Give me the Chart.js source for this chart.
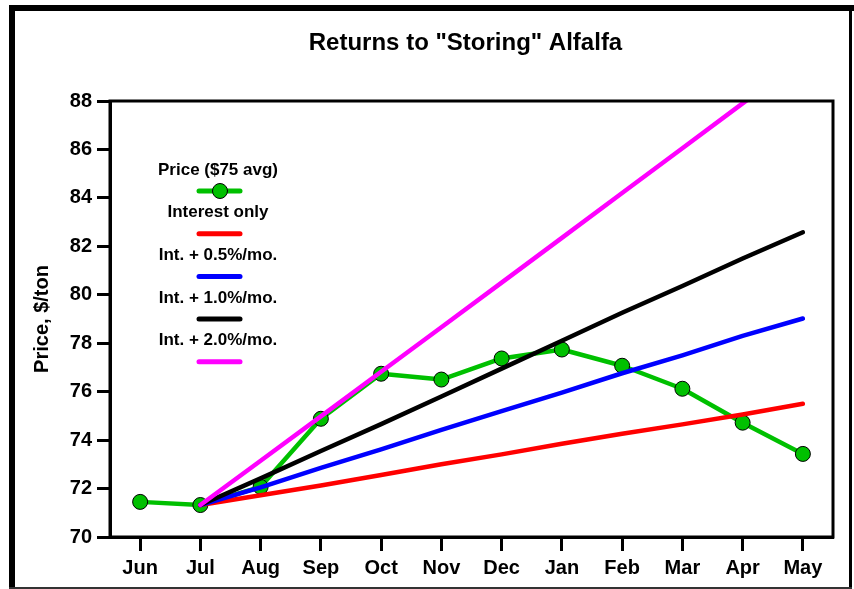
<!DOCTYPE html>
<html>
<head>
<meta charset="utf-8">
<title>Returns to "Storing" Alfalfa</title>
<script src="https://cdn.jsdelivr.net/npm/chart.js@4.4.1/dist/chart.umd.min.js"></script>
<style>
  html, body { margin: 0; padding: 0; background: #fff; }
  #wrap { position: relative; width: 854px; height: 589px; }
</style>
</head>
<body>
<div id="wrap"><canvas id="storing"></canvas></div>
<script>
// months on the x axis
var months = ['Jun', 'Jul', 'Aug', 'Sep', 'Oct', 'Nov', 'Dec', 'Jan', 'Feb', 'Mar', 'Apr', 'May'];

// $/ton
var price      = [71.45, 71.32, 72.07, 74.88, 76.74, 76.50, 77.37, 77.74, 77.07, 76.12, 74.72, 73.43];
var interest   = [null, 71.32, 71.72, 72.13, 72.56, 73.00, 73.41, 73.85, 74.26, 74.65, 75.06, 75.50];
var int05      = [null, 71.32, 72.05, 72.85, 73.62, 74.42, 75.20, 75.96, 76.76, 77.50, 78.30, 79.02];
var int10      = [null, 71.32, 72.42, 73.55, 74.66, 75.80, 76.95, 78.10, 79.26, 80.36, 81.50, 82.58];
var int20      = [null, 71.32, 73.15, 74.98, 76.82, 78.66, 80.50, 82.35, 84.20, 86.05, 87.90, 89.75];

var seriesLabels = ['Price ($75 avg)', 'Interest only', 'Int. + 0.5%/mo.', 'Int. + 1.0%/mo.', 'Int. + 2.0%/mo.'];
var seriesColors = ['#00c000', '#ff0000', '#0000ff', '#000000', '#ff00ff'];

var chartTitle = 'Returns to "Storing" Alfalfa';

var FONT = "'Liberation Sans', Arial, Helvetica, sans-serif";

function lineSet(i, values) {
  return {
    label: seriesLabels[i],
    data: values,
    borderColor: seriesColors[i],
    backgroundColor: seriesColors[i],
    borderWidth: 4.5,
    borderCapStyle: 'round',
    borderJoinStyle: 'round',
    pointRadius: 0,
    tension: 0,
    clip: 0,
    order: 5 - i
  };
}

// frame, title, plot box and the stacked legend
var decor = {
  id: 'decor',
  afterDraw: function (chart) {
    var ctx = chart.ctx;
    var a = chart.chartArea;
    ctx.save();
    // outer frame
    ctx.fillStyle = '#000';
    ctx.fillRect(9, 5, 845, 6);
    ctx.fillRect(9, 5, 6, 584);
    ctx.fillRect(849, 5, 3, 584);
    ctx.fillStyle = '#333';
    ctx.fillRect(9, 587, 843, 2);
    // plot box
    ctx.strokeStyle = '#000';
    ctx.lineWidth = 3;
    ctx.strokeRect(a.left, a.top, a.right - a.left, a.bottom - a.top);

    // title, centred over the plot
    ctx.fillStyle = '#000';
    ctx.font = 'bold 24px ' + FONT;
    ctx.textAlign = 'center';
    ctx.textBaseline = 'middle';
    ctx.fillText(chartTitle, (a.left + a.right) / 2 - 6, 43);

    // legend: label above its line sample
    var cx = 218;
    ctx.font = 'bold 17px ' + FONT;
    chart.data.datasets.forEach(function (ds, i) {
      var ty = 170 + i * 42.7;
      var sy = ty + 21;
      ctx.fillStyle = '#000';
      ctx.fillText(ds.label, cx, ty);
      ctx.strokeStyle = ds.borderColor;
      ctx.lineWidth = 5;
      ctx.lineCap = 'round';
      ctx.beginPath();
      ctx.moveTo(cx - 19, sy);
      ctx.lineTo(cx + 22, sy);
      ctx.stroke();
      if (ds.pointRadius > 0) {
        ctx.beginPath();
        ctx.arc(cx + 2, sy, ds.pointRadius, 0, Math.PI * 2);
        ctx.fillStyle = ds.pointBackgroundColor;
        ctx.fill();
        ctx.lineWidth = 1;
        ctx.strokeStyle = '#000';
        ctx.stroke();
      }
    });
    ctx.restore();
  }
};

var priceSet = lineSet(0, price);
priceSet.pointRadius = 7.5;
priceSet.pointBackgroundColor = '#00c000';
priceSet.pointBorderColor = '#000';
priceSet.pointBorderWidth = 1;

var config = {
  type: 'line',
  plugins: [decor],
  data: {
    labels: months,
    datasets: [
      priceSet,
      lineSet(1, interest),
      lineSet(2, int05),
      lineSet(3, int10),
      lineSet(4, int20)
    ]
  },
  options: {
    responsive: false,
    animation: false,
    layout: {
      padding: { left: 0, right: 21, top: 101, bottom: 0 }
    },
    plugins: {
      legend: { display: false },
      tooltip: { enabled: false },
      title: { display: false }
    },
    scales: {
      x: {
        offset: true,
        grid: {
          offset: false,
          drawOnChartArea: false,
          drawTicks: true,
          tickLength: 14,
          tickWidth: 3,
          tickColor: '#000'
        },
        border: { display: true, color: '#000', width: 3 },
        ticks: {
          color: '#000',
          padding: 5,
          maxRotation: 0,
          autoSkip: false,
          font: { family: FONT, size: 20, weight: 'bold' }
        },
        afterFit: function (scale) { scale.height = 52; }
      },
      y: {
        min: 70,
        max: 88,
        grid: {
          drawOnChartArea: false,
          drawTicks: true,
          tickLength: 13,
          tickWidth: 3,
          tickColor: '#000'
        },
        border: { display: true, color: '#000', width: 3 },
        ticks: {
          stepSize: 2,
          color: '#000',
          padding: 5,
          font: { family: FONT, size: 20, weight: 'bold' }
        },
        title: {
          display: true,
          text: 'Price, $/ton',
          color: '#000',
          font: { family: FONT, size: 20, weight: 'bold' },
          padding: { top: 30, bottom: 0 }
        },
        afterFit: function (scale) { scale.width = 110; }
      }
    }
  }
};

var canvas = document.getElementById('storing');
canvas.width = 854;
canvas.height = 589;
new Chart(canvas.getContext('2d'), config);
</script>
</body>
</html>
